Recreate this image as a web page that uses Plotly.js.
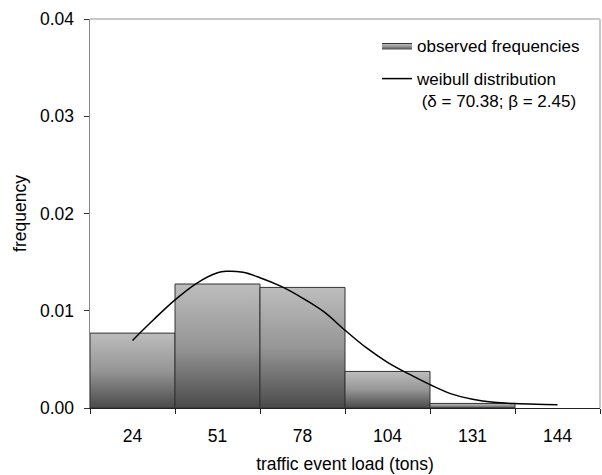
<!DOCTYPE html>
<html>
<head>
<meta charset="utf-8">
<script src="https://cdn.plot.ly/plotly-3.0.1.min.js"></script>
<style>html,body{margin:0;padding:0;background:#fff;}#chart{width:602px;height:475px;}</style>
</head>
<body>
<div id="chart"></div>
<script>
// Category labels (traffic event load, tons)
const categories = ['24', '51', '78', '104', '131', '144'];
// Observed frequencies per class
const observed = [0.0077, 0.01275, 0.0124, 0.00376, 0.00047, 0.0];
// Weibull curve (position in class-index units, frequency)
const curveX = [0.0, 0.25, 0.5, 0.75, 1.0, 1.1, 1.3, 1.5, 1.75, 2.0, 2.25, 2.5, 2.75, 3.0, 3.25, 3.5, 3.75, 4.0, 4.25, 4.5, 4.75, 5.0];
const curveY = [0.00695, 0.0091, 0.01112, 0.0128, 0.0139, 0.01405, 0.01395, 0.01340, 0.0125, 0.0113, 0.0099, 0.0080, 0.0062, 0.0047, 0.0035, 0.0024, 0.00145, 0.0009, 0.00058, 0.00045, 0.00038, 0.00034];
const yTicks = [0, 0.01, 0.02, 0.03, 0.04];

const FONT = 'Liberation Sans, Arial, sans-serif';

const traces = [];
// invisible bar trace establishing the category axis
traces.push({
  type: 'bar', x: categories, y: observed, xaxis: 'x', yaxis: 'y',
  marker: {color: 'rgba(0,0,0,0)'}, showlegend: false, hoverinfo: 'skip'
});
// gradient-filled bars on the overlaying linear axis
let first = true;
observed.forEach((v, i) => {
  if (v <= 0) return;
  traces.push({
    type: 'scatter', mode: 'lines', xaxis: 'x2', yaxis: 'y',
    x: [i - 0.5, i - 0.5, i + 0.5, i + 0.5, i - 0.5],
    y: [0, v, v, 0, 0],
    fill: 'toself',
    fillgradient: {type: 'vertical', colorscale: [[0, '#4a4a4a'], [0.5, '#969696'], [1, '#bdbdbd']]},
    line: {color: '#333333', width: 1},
    name: 'observed frequencies', legendgroup: 'obs',
    showlegend: first, hoverinfo: 'skip'
  });
  first = false;
});
traces.push({
  type: 'scatter', mode: 'lines', xaxis: 'x2', yaxis: 'y',
  x: curveX, y: curveY,
  line: {color: '#000', width: 1.5, shape: 'spline', smoothing: 1},
  name: 'weibull distribution<br>\u00a0(\u03b4 = 70.38; \u03b2 = 2.45)',
  legendgroup: 'wei'
});

const layout = {
  width: 602, height: 475,
  margin: {l: 90, r: 2, t: 19, b: 67},
  paper_bgcolor: '#fff', plot_bgcolor: '#fff',
  font: {family: FONT, size: 17.5, color: '#000'},
  showlegend: true,
  legend: {
    x: 0.5627, y: 0.977, xanchor: 'left', yanchor: 'top',
    bgcolor: 'rgba(0,0,0,0)', font: {family: FONT, size: 17, color: '#000'},
    tracegroupgap: 8, valign: 'top', itemwidth: 30
  },
  xaxis: {
    type: 'category', categoryorder: 'array', categoryarray: categories,
    range: [-0.5, 5.5], tickson: 'boundaries',
    ticks: 'outside', ticklen: 5, tickcolor: '#222', tickwidth: 1,
    showline: true, linecolor: '#222', linewidth: 1,
    showgrid: false, zeroline: false, ticklabelstandoff: 12,
    tickfont: {family: FONT, size: 17.5, color: '#000'},
    title: {text: 'traffic event load (tons)', font: {family: FONT, size: 17.5, color: '#000'}, standoff: 12}
  },
  xaxis2: {
    overlaying: 'x', anchor: 'y', range: [-0.5, 5.5], visible: false, type: 'linear'
  },
  yaxis: {
    range: [0, 0.04], tickvals: yTicks, tickformat: '.2f',
    ticks: 'outside', ticklen: 5, tickcolor: '#333', tickwidth: 1,
    showline: true, linecolor: '#888', linewidth: 1.5,
    showgrid: false, zeroline: false, ticklabelstandoff: 6,
    tickfont: {family: FONT, size: 17.5, color: '#000'},
    title: {text: 'frequency', font: {family: FONT, size: 17.5, color: '#000'}, standoff: 9}
  },
  shapes: [
    {type: 'line', xref: 'paper', yref: 'paper', x0: 0, x1: 1, y0: 1, y1: 1, line: {color: '#c8c8c8', width: 2}},
    {type: 'line', xref: 'paper', yref: 'paper', x0: 1, x1: 1, y0: 0, y1: 1, line: {color: '#c8c8c8', width: 2}}
  ]
};

Plotly.newPlot('chart', traces, layout, {displayModeBar: false, staticPlot: true});
</script>
</body>
</html>
